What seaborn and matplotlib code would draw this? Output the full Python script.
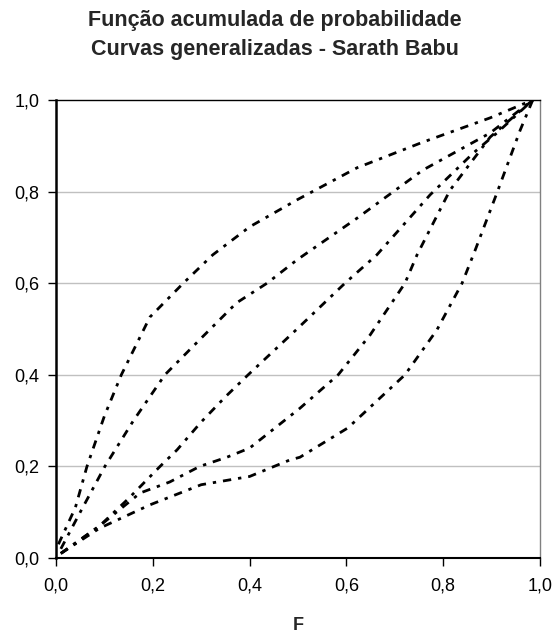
import matplotlib
matplotlib.use("Agg")
import matplotlib.pyplot as plt
import seaborn as sns
import pandas as pd

# Curve data (F, cumulative probability)
curve_a_x = [0.005, 0.04, 0.064, 0.10, 0.135, 0.194, 0.263, 0.324, 0.40, 0.498, 0.622, 0.758, 0.897, 0.985]
curve_a_y = [0.03, 0.11, 0.20, 0.31, 0.40, 0.526, 0.60, 0.662, 0.723, 0.782, 0.852, 0.908, 0.961, 1.0]

curve_b_x = [0.01, 0.05, 0.101, 0.16, 0.225, 0.30, 0.373, 0.436, 0.498, 0.622, 0.758, 0.897, 0.985]
curve_b_y = [0.02, 0.10, 0.20, 0.30, 0.40, 0.48, 0.557, 0.60, 0.651, 0.742, 0.847, 0.928, 1.0]

curve_c_x = [0.01, 0.09, 0.15, 0.215, 0.25, 0.30, 0.35, 0.397, 0.498, 0.597, 0.663, 0.773, 0.862, 0.911, 0.985]
curve_c_y = [0.01, 0.07, 0.13, 0.20, 0.236, 0.297, 0.352, 0.40, 0.50, 0.60, 0.662, 0.793, 0.884, 0.928, 1.0]

curve_d_x = [0.01, 0.09, 0.174, 0.235, 0.297, 0.353, 0.40, 0.504, 0.583, 0.649, 0.721, 0.746, 0.814, 0.897, 0.985]
curve_d_y = [0.01, 0.07, 0.142, 0.166, 0.20, 0.22, 0.24, 0.327, 0.40, 0.487, 0.60, 0.662, 0.803, 0.919, 1.0]

curve_e_x = [0.01, 0.09, 0.194, 0.30, 0.40, 0.483, 0.504, 0.603, 0.721, 0.787, 0.839, 0.866, 0.911, 0.959, 0.985]
curve_e_y = [0.01, 0.065, 0.116, 0.16, 0.178, 0.214, 0.22, 0.284, 0.40, 0.498, 0.60, 0.672, 0.797, 0.934, 1.0]

curves = {
    "A": (curve_a_x, curve_a_y),
    "B": (curve_b_x, curve_b_y),
    "C": (curve_c_x, curve_c_y),
    "D": (curve_d_x, curve_d_y),
    "E": (curve_e_x, curve_e_y),
}

tick_values = [0.0, 0.2, 0.4, 0.6, 0.8, 1.0]
tick_labels = ["0,0", "0,2", "0,4", "0,6", "0,8", "1,0"]

title = "Função acumulada de probabilidade\nCurvas generalizadas - Sarath Babu"
xlabel = "F"

sns.set_theme(style="white")
plt.rcParams["font.family"] = ["Liberation Sans", "DejaVu Sans"]

fig = plt.figure(figsize=(5.56, 6.36), dpi=100)
ax = fig.add_axes([56 / 556, 1 - 558 / 636, (540 - 56) / 556, (558 - 100) / 636])

for name, (xs, ys) in curves.items():
    df = pd.DataFrame({"F": xs, "P": ys})
    sns.lineplot(data=df, x="F", y="P", ax=ax, sort=False, estimator=None,
                 color="black", linewidth=2.0, linestyle=(0, (3, 2.5, 1.2, 2.5)))

ax.set_xlim(0, 1)
ax.set_ylim(0, 1)
ax.set_xticks(tick_values)
ax.set_xticklabels(tick_labels, fontsize=13)
ax.set_yticks(tick_values)
ax.set_yticklabels(tick_labels, fontsize=13)
ax.set_ylabel("")
ax.set_xlabel(xlabel, fontsize=13, fontweight="bold", labelpad=16)

for y in [0.2, 0.4, 0.6, 0.8]:
    ax.axhline(y, color="#c0c0c0", linewidth=1.0, zorder=0)

ax.tick_params(axis="both", direction="out", length=6, width=1, color="black",
               bottom=True, left=True, colors="black")
ax.tick_params(axis="x", pad=8)
ax.tick_params(axis="y", pad=6)

ax.spines["left"].set_color("black")
ax.spines["left"].set_linewidth(1.8)
ax.spines["bottom"].set_color("black")
ax.spines["bottom"].set_linewidth(1.5)
ax.spines["top"].set_color("black")
ax.spines["top"].set_linewidth(1.0)
ax.spines["right"].set_color("#808080")
ax.spines["right"].set_linewidth(1.0)

fig.text(0.495, 1 - 35 / 636, title, ha="center", va="center", fontsize=15.5,
         fontweight="bold", linespacing=1.45)

fig.savefig("out.png", dpi=100, facecolor="white")
